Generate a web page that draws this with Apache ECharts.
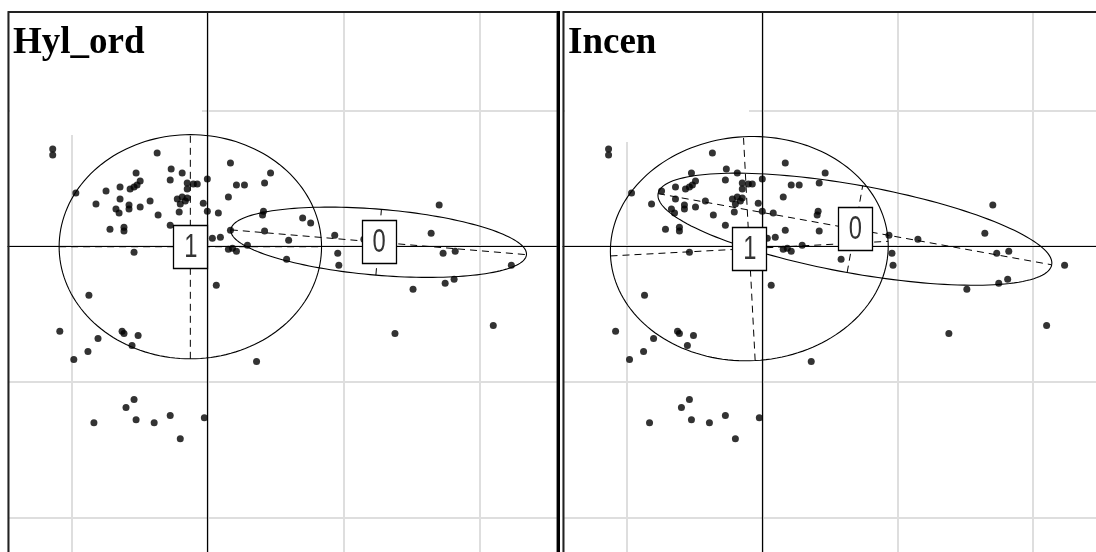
<!DOCTYPE html>
<html>
<head>
<meta charset="utf-8">
<script src="https://cdn.jsdelivr.net/npm/echarts@6/dist/echarts.min.js"></script>
<style>
  html, body { margin: 0; padding: 0; background: #fff; }
  #chart { width: 1096px; height: 552px; }
</style>
</head>
<body>
<div id="chart"></div>
<script>
// Row scores on the first factorial plane (same cloud in both panels)
const pointX = [
  -1.137, -1.137, -0.369, -0.524, -0.494, -0.517, -0.568, -0.539, -0.642, -0.745,
  -0.967, -0.642, -0.819, -0.672, -0.649, -0.576, -0.576, -0.494, -0.421, -0.362,
  -0.716, -0.613, -0.613, -0.539, -0.266, -0.185, -0.273, -0.148, -0.103, -0.148,
  -0.221, -0.185, -0.162, -0.199, -0.148, -0.207, -0.273, 0.000, -0.030, 0.000,
  0.170, 0.465, 0.421, 0.214, 0.273, 0.155, -0.074, 0.081, 0.413, 0.406,
  0.701, 0.760, 0.170, 0.421, 0.598, 0.037, 0.096, 0.155, 0.185, 0.214,
  0.295, 0.583, 0.937, 0.959, 0.967, 1.151, 1.705, 1.646, 1.734, 1.823,
  2.236, 1.815, 1.749, 1.513, 2.103, 1.380, 0.066, -0.871, -1.085, -0.804,
  -0.627, -0.613, -0.509, -0.554, -0.878, -0.982, 0.362, -0.539, -0.598, -0.834,
  -0.524, -0.391, -0.273, -0.199, -0.022
];
const pointY = [
  0.716, 0.672, 0.686, 0.539, 0.480, 0.450, 0.421, 0.435, 0.435, 0.406,
  0.391, 0.347, 0.310, 0.273, 0.244, 0.303, 0.273, 0.288, 0.332, 0.229,
  0.125, 0.140, 0.111, -0.044, 0.568, 0.539, 0.487, 0.465, 0.458, 0.421,
  0.347, 0.362, 0.332, 0.310, 0.354, 0.251, 0.155, 0.494, 0.317, 0.258,
  0.613, 0.539, 0.465, 0.450, 0.450, 0.362, 0.458, 0.244, 0.258, 0.229,
  0.207, 0.170, 0.118, 0.111, 0.044, 0.059, 0.066, -0.022, -0.015, -0.037,
  0.007, -0.096, 0.081, -0.052, -0.140, 0.052, 0.303, 0.096, -0.052, -0.037,
  -0.140, -0.244, -0.273, -0.317, -0.583, -0.642, -0.288, -0.362, -0.627, -0.679,
  -0.627, -0.642, -0.657, -0.731, -0.775, -0.834, -0.849, -1.129, -1.188, -1.299,
  -1.277, -1.299, -1.247, -1.417, -1.262
];

// Panel titles and class levels
const panelTitles = ['Hyl_ord', 'Incen'];
const classLabels = ['1', '0'];

// Class ellipses: centre, semi-axes and tilt (degrees) for each factor
const hylCentre = [[-0.125, -0.004], [1.260, 0.029]];
const hylRadii = [[0.965, 0.825], [1.091, 0.243]];
const hylAngle = [0, -4.8];
const incCentre = [[-0.096, -0.018], [0.685, 0.125]];
const incRadii = [[1.028, 0.825], [1.479, 0.324]];
const incAngle = [3, -10.2];

// Visible window of each panel
const leftX = [-1.466, 2.579];
const rightX = [-1.474, 2.557];
const panelY = [-2.31, 1.724];

const points = pointX.map((x, i) => [x, pointY[i]]);

function ellipseRows(centre, radii, angle) {
  return centre.map((c, i) => [c[0], c[1], radii[i][0], radii[i][1], angle[i], i]);
}

function renderEllipse(params, api) {
  const cx = api.value(0), cy = api.value(1);
  const a = api.value(2), b = api.value(3);
  const t = api.value(4) * Math.PI / 180;
  const ca = Math.cos(t), sa = Math.sin(t);
  const pts = [];
  for (let k = 0; k <= 160; k++) {
    const th = 2 * Math.PI * k / 160;
    const ux = a * Math.cos(th), uy = b * Math.sin(th);
    pts.push(api.coord([cx + ux * ca - uy * sa, cy + ux * sa + uy * ca]));
  }
  const e1 = api.coord([cx - a * ca, cy - a * sa]);
  const e2 = api.coord([cx + a * ca, cy + a * sa]);
  const m1 = api.coord([cx + b * sa, cy - b * ca]);
  const m2 = api.coord([cx - b * sa, cy + b * ca]);
  const dash = { stroke: '#000', lineWidth: 1, lineDash: [7, 5], fill: null };
  return {
    type: 'group',
    children: [
      { type: 'polyline', shape: { points: pts }, style: { stroke: '#000', lineWidth: 1.1, fill: null } },
      { type: 'line', shape: { x1: e1[0], y1: e1[1], x2: e2[0], y2: e2[1] }, style: dash },
      { type: 'line', shape: { x1: m1[0], y1: m1[1], x2: m2[0], y2: m2[1] }, style: dash }
    ]
  };
}

function renderLabel(params, api) {
  const c = api.coord([api.value(0), api.value(1)]);
  const label = classLabels[api.value(5)];
  return {
    type: 'group',
    children: [
      { type: 'rect', shape: { x: Math.round(c[0]) - 16.5, y: Math.round(c[1]) - 21.5, width: 34, height: 43 },
        style: { fill: '#fff', stroke: '#000', lineWidth: 1.3 } },
      { type: 'text', x: c[0] + 0.5, y: c[1] + 1, scaleX: 0.72, scaleY: 1,
        style: { text: label, font: '33px "Liberation Sans", Arial, sans-serif', fill: '#333',
                 align: 'center', verticalAlign: 'middle' } }
    ]
  };
}

const gridLine = { show: true, lineStyle: { color: '#dedede', width: 2 } };

function makeXAxis(idx, ext) {
  return {
    type: 'value', gridIndex: idx, min: ext[0], max: ext[1],
    minInterval: 1, maxInterval: 1,
    axisLine: { show: true, onZero: true, lineStyle: { color: '#000', width: 1.2 } },
    axisTick: { show: false }, axisLabel: { show: false }, splitLine: gridLine
  };
}
function makeYAxis(idx) {
  return {
    type: 'value', gridIndex: idx, min: panelY[0], max: panelY[1],
    minInterval: 1, maxInterval: 1,
    axisLine: { show: true, onZero: true, lineStyle: { color: '#000', width: 1.2 } },
    axisTick: { show: false }, axisLabel: { show: false }, splitLine: gridLine
  };
}

const chart = echarts.init(document.getElementById('chart'), null, { renderer: 'canvas' });

const option = {
  animation: false,
  backgroundColor: '#fff',
  grid: [
    { left: 8, top: 12, width: 550, height: 548, outerBoundsMode: 'none', containLabel: false },
    { left: 563, top: 12, width: 545, height: 548, outerBoundsMode: 'none', containLabel: false }
  ],
  xAxis: [makeXAxis(0, leftX), makeXAxis(1, rightX)],
  yAxis: [makeYAxis(0), makeYAxis(1)],
  series: [
    { type: 'scatter', xAxisIndex: 0, yAxisIndex: 0, data: points, symbol: 'circle', symbolSize: 7,
      itemStyle: { color: '#000' }, z: 2, silent: true },
    { type: 'scatter', xAxisIndex: 1, yAxisIndex: 1, data: points, symbol: 'circle', symbolSize: 7,
      itemStyle: { color: '#000' }, z: 2, silent: true },
    { type: 'custom', xAxisIndex: 0, yAxisIndex: 0, data: ellipseRows(hylCentre, hylRadii, hylAngle),
      renderItem: renderEllipse, z: 3, silent: true, clip: false },
    { type: 'custom', xAxisIndex: 1, yAxisIndex: 1, data: ellipseRows(incCentre, incRadii, incAngle),
      renderItem: renderEllipse, z: 3, silent: true, clip: false },
    { type: 'custom', xAxisIndex: 0, yAxisIndex: 0, data: ellipseRows(hylCentre, hylRadii, hylAngle),
      renderItem: renderLabel, z: 4, silent: true, clip: false },
    { type: 'custom', xAxisIndex: 1, yAxisIndex: 1, data: ellipseRows(incCentre, incRadii, incAngle),
      renderItem: renderLabel, z: 4, silent: true, clip: false }
  ],
  graphic: [
    // white patches behind the panel titles
    { type: 'rect', z: 1, silent: true, shape: { x: 10, y: 13, width: 192, height: 122 }, style: { fill: '#fff' } },
    { type: 'rect', z: 1, silent: true, shape: { x: 565, y: 13, width: 184, height: 129 }, style: { fill: '#fff' } },
    // panel frames
    { type: 'rect', z: 10, silent: true, shape: { x: 8.5, y: 12, width: 549, height: 600 },
      style: { fill: null, stroke: '#222', lineWidth: 2 } },
    { type: 'line', z: 10, silent: true, shape: { x1: 558.5, y1: 11, x2: 558.5, y2: 560 },
      style: { stroke: '#000', lineWidth: 3 } },
    { type: 'rect', z: 10, silent: true, shape: { x: 563.5, y: 12, width: 600, height: 600 },
      style: { fill: null, stroke: '#222', lineWidth: 2 } },
    // panel titles
    { type: 'text', z: 10, silent: true, x: 13, y: 25,
      style: { text: panelTitles[0], font: 'bold 37px "Liberation Serif", "Times New Roman", serif', fill: '#000' } },
    { type: 'text', z: 10, silent: true, x: 568, y: 25,
      style: { text: panelTitles[1], font: 'bold 37px "Liberation Serif", "Times New Roman", serif', fill: '#000' } }
  ]
};

chart.setOption(option);
</script>
</body>
</html>
